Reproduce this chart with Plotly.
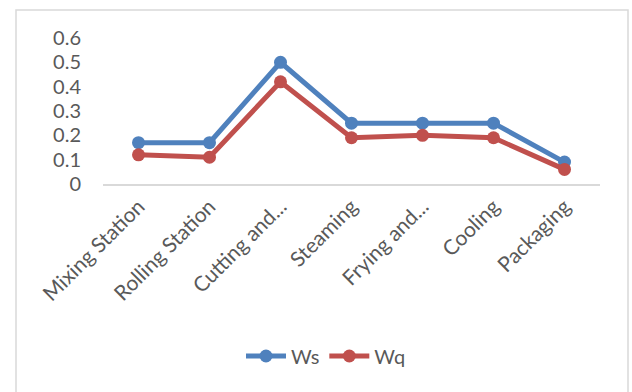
import plotly.graph_objects as go

# Station names along the process line
stations = ["Mixing Station", "Rolling Station", "Cutting and...", "Steaming",
            "Frying and...", "Cooling", "Packaging"]
# Waiting time in system (Ws) and in queue (Wq)
ws = [0.17, 0.17, 0.50, 0.25, 0.25, 0.25, 0.09]
wq = [0.12, 0.11, 0.42, 0.19, 0.20, 0.19, 0.06]
y_ticks = [0, 0.1, 0.2, 0.3, 0.4, 0.5, 0.6]

BLUE = "#4F81BD"
RED = "#C0504D"
TEXT = "#595959"
FONT = "Lato"

W, H = 632, 392
L, R, T, B = 103, 32, 38, 208

fig = go.Figure()
fig.add_trace(go.Scatter(x=stations, y=ws, name="Ws", mode="lines+markers",
                         line=dict(color=BLUE, width=5),
                         marker=dict(color=BLUE, size=13)))
fig.add_trace(go.Scatter(x=stations, y=wq, name="Wq", mode="lines+markers",
                         line=dict(color=RED, width=5),
                         marker=dict(color=RED, size=13)))

pw = W - L - R
ph = H - T - B

def px_x(v):
    return (v - L) / pw

def px_y(v):
    return (H - B - v) / ph

# Outer chart frame
fig.add_shape(type="rect", xref="paper", yref="paper",
              x0=px_x(16), x1=px_x(628), y0=px_y(400), y1=px_y(10),
              line=dict(color="#D9D9D9", width=1.5), fillcolor="rgba(0,0,0,0)",
              layer="below")

fig.update_layout(
    width=W, height=H,
    margin=dict(l=L, r=R, t=T, b=B, pad=0),
    paper_bgcolor="white", plot_bgcolor="white",
    font=dict(family=FONT, color=TEXT),
    showlegend=True,
    legend=dict(orientation="h", x=px_x(326), xanchor="center",
                y=px_y(356), yanchor="middle",
                font=dict(size=20, color=TEXT, family=FONT),
                itemwidth=40, bgcolor="rgba(0,0,0,0)"),
    xaxis=dict(type="category", categoryorder="array", categoryarray=stations,
               range=[-0.5, len(stations) - 0.5],
               showgrid=False, zeroline=False, showline=True,
               linecolor="#D9D9D9", linewidth=2, ticks="",
               tickangle=-45, tickfont=dict(size=21, color=TEXT, family=FONT)),
    yaxis=dict(range=[0, 0.6], tickvals=y_ticks,
               ticktext=[f"{v:g}" for v in y_ticks],
               showgrid=False, zeroline=False, showline=False, ticks="",
               ticklabelstandoff=21,
               tickfont=dict(size=20, color=TEXT, family=FONT)),
)

fig.write_html("out.html")
